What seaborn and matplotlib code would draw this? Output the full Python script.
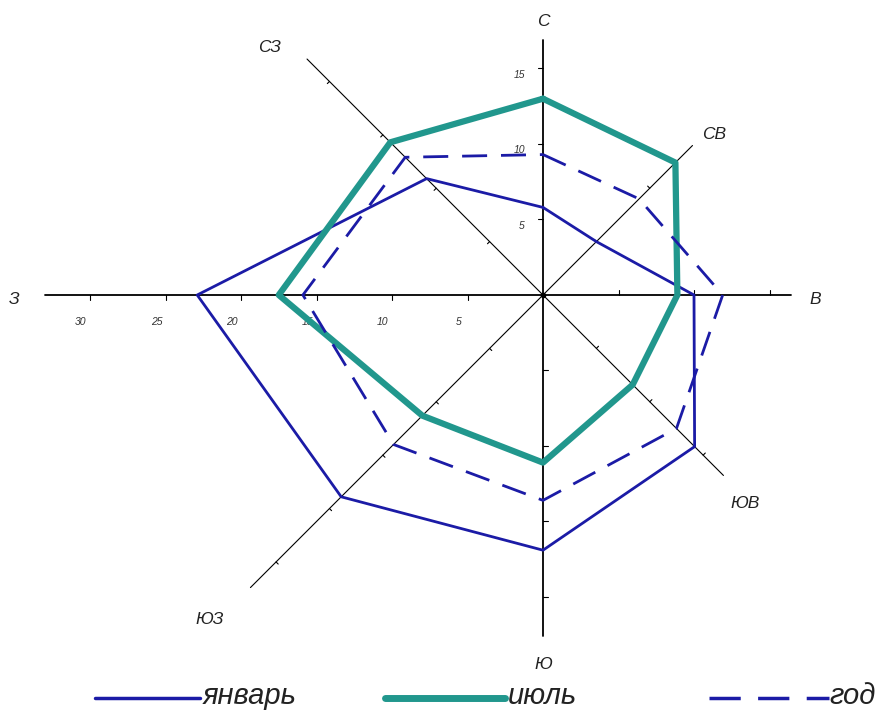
import numpy as np
import pandas as pd
import matplotlib
matplotlib.use("Agg")
import matplotlib.pyplot as plt
import seaborn as sns

# ---- data ----
directions = ["С", "СВ", "В", "ЮВ", "Ю", "ЮЗ", "З", "СЗ"]
angles_deg = [90, 45, 0, -45, -90, -135, 180, 135]
january = [5.8, 5.0, 10.0, 14.2, 16.9, 18.9, 22.9, 10.9]
july = [13.0, 12.4, 8.9, 8.4, 11.1, 11.3, 17.5, 14.3]
year = [9.3, 9.0, 11.9, 12.5, 13.6, 14.0, 15.9, 12.9]
series_names = ["январь", "июль", "год"]
axis_length = [16.9, 14.0, 16.4, 16.9, 22.6, 27.4, 33.0, 22.1]
w_tick_labels = ["5", "10", "15", "20", "25", "30"]
n_tick_labels = ["5", "10", "15"]

sns.set_theme(style="white")
plt.rcParams['font.family'] = ['Liberation Sans', 'DejaVu Sans']

W, H, DPI = 893, 720, 100
fig = plt.figure(figsize=(W / DPI, H / DPI), dpi=DPI)
ax = fig.add_axes([0, 0, 1, 1])
s = 15.1  # px per unit
cx, cy = 543, 295
ax.set_xlim(-cx / s, (W - cx) / s)
ax.set_ylim(-(H - cy) / s, cy / s)
ax.axis("off")

ang = np.deg2rad(np.array(angles_deg))
ux, uy = np.cos(ang), np.sin(ang)

# axes lines
for i, L in enumerate(axis_length):
    diag = angles_deg[i] % 90 != 0
    lw = 0.8 if diag else 1.3
    ax.plot([0, L * ux[i]], [0, L * uy[i]], color="black", lw=lw, zorder=1)
    tl = 0.33
    for v in np.arange(5, L, 5):
        px, py = v * ux[i], v * uy[i]
        nx, ny = -uy[i], ux[i]
        if angles_deg[i] == 180:
            nx, ny = 0, -1
        elif angles_deg[i] == 0:
            nx, ny = 0, 1
        elif angles_deg[i] == 90:
            nx, ny = -1, 0
        elif angles_deg[i] == -90:
            nx, ny = 1, 0
        else:
            tl = 0.2
        ax.plot([px, px + tl * nx], [py, py + tl * ny], color="black", lw=0.8, zorder=1)
ax.plot([0], [0], "o", color="black", ms=3, zorder=5)

# tick labels
tfont = dict(fontsize=7.5, style="italic", color="#333333")
for t in w_tick_labels:
    v = float(t)
    ax.text(-v - 0.6, -1.8, t, ha="center", va="center", **tfont)
for t in n_tick_labels:
    v = float(t)
    ax.text(-1.2, v - 0.4, t, ha="right", va="center", **tfont)

# direction labels
label_pos = [(0, 18.1), (11.3, 10.6), (18.0, -0.3), (13.4, -13.8),
             (0, -24.5), (-22.1, -21.5), (-35.0, -0.3), (-18.1, 16.4)]
for d, (x, y) in zip(directions, label_pos):
    ax.text(x, y, d, ha="center", va="center", fontsize=12.5, style="italic", color="#222222")

# series
colors = ["#1b1ba6", "#21978d", "#1b1ba6"]
widths = [2.0, 4.5, 2.0]
styles = ["-", "-", (0, (9, 5))]
for name, vals, c, lw, ls in zip(series_names, [january, july, year], colors, widths, styles):
    v = np.array(vals)
    df = pd.DataFrame({"x": np.append(v * ux, v[0] * ux[0]),
                       "y": np.append(v * uy, v[0] * uy[0])})
    sns.lineplot(data=df, x="x", y="y", sort=False, estimator=None, ax=ax,
                 color=c, lw=lw, linestyle=ls, zorder=3)

# legend (manual)
ly = -(698 - cy) / s
legend_specs = [(95, 200, 203), (385, 505, 508), (709, 829, 829)]
for (x0, x1, xt), name, c, lw, ls in zip(legend_specs, series_names, colors, widths, styles):
    ax.plot([(x0 - cx) / s, (x1 - cx) / s], [ly, ly], color=c, lw=lw + 0.5, linestyle=ls)
    ax.text((xt - cx) / s, ly + 0.1, name, ha="left", va="center", fontsize=21,
            style="italic", color="#222222")

ax.set_xlabel("")
ax.set_ylabel("")
fig.savefig("out.png", dpi=DPI)
